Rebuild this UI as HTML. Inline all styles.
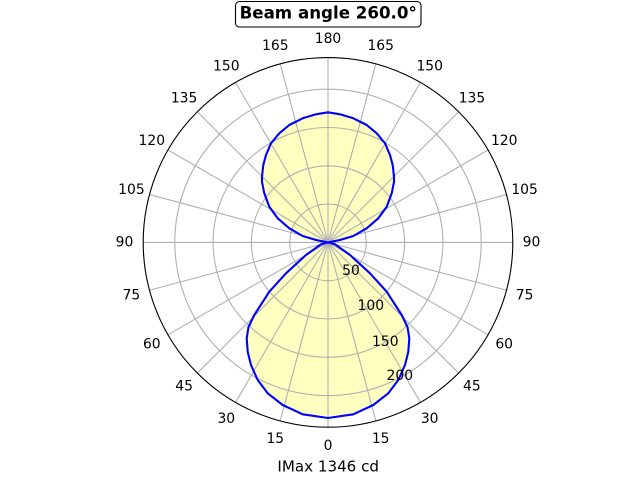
<!DOCTYPE html>
<html><head><meta charset="utf-8"><style>
html,body{margin:0;padding:0;background:#fff;}
svg{display:block;}
text{font-family:"DejaVu Sans","Liberation Sans",sans-serif;fill:#000;}
</style></head><body>
<svg width="640" height="480" viewBox="0 0 640 480" xmlns="http://www.w3.org/2000/svg">
<rect width="640" height="480" fill="#fff"/>
<path d="M328,242.4 L330,242 L340,240 L353.3,236 L366.7,228.3 L378.3,218.3 L386.7,206.7 L391.7,193.3 L394,182 L394,176.7 L392.7,165 L390,155 L385,143.3 L376.7,133.3 L366.7,125 L353.3,118.3 L340,114.3 L328,112.3 L316,114.3 L302.7,118.3 L289.3,125 L279.3,133.3 L271,143.3 L266,155 L263.3,165 L262,176.7 L262,182 L264.3,193.3 L269.3,206.7 L277.7,218.3 L289.3,228.3 L302.7,236 L316,240 L326,242 L328,242.4 L321,244.3 L306,255 L286,273.3 L269.3,291.7 L254.3,315 L248.5,327 L246.7,338.3 L247.7,351.7 L251,365 L257.7,380 L267.7,393.3 L282.7,405 L302.7,414.3 L328,418 L353.3,414.3 L373.3,405 L388.3,393.3 L398.3,380 L405,365 L408.3,351.7 L409.3,338.3 L407.5,327 L401.7,315 L386.7,291.7 L370,273.3 L350,255 L335,244.3 Z" fill="#ffffc0" stroke="none"/>
<g stroke="#b0b0b0" stroke-width="1.1" fill="none">
<circle cx="328" cy="242.4" r="38.3"/>
<circle cx="328" cy="242.4" r="76.6"/>
<circle cx="328" cy="242.4" r="114.9"/>
<circle cx="328" cy="242.4" r="153.2"/>
<line x1="328" y1="242.4" x2="328" y2="427.2"/>
<line x1="328" y1="242.4" x2="328" y2="57.6"/>
<line x1="328" y1="242.4" x2="143.2" y2="242.4"/>
<line x1="328" y1="242.4" x2="512.8" y2="242.4"/>
<line x1="328" y1="242.4" x2="375.83" y2="420.9"/>
<line x1="328" y1="242.4" x2="280.17" y2="420.9"/>
<line x1="328" y1="242.4" x2="375.83" y2="63.9"/>
<line x1="328" y1="242.4" x2="280.17" y2="63.9"/>
<line x1="328" y1="242.4" x2="420.4" y2="402.44"/>
<line x1="328" y1="242.4" x2="235.6" y2="402.44"/>
<line x1="328" y1="242.4" x2="420.4" y2="82.36"/>
<line x1="328" y1="242.4" x2="235.6" y2="82.36"/>
<line x1="328" y1="242.4" x2="458.67" y2="373.07"/>
<line x1="328" y1="242.4" x2="197.33" y2="373.07"/>
<line x1="328" y1="242.4" x2="458.67" y2="111.73"/>
<line x1="328" y1="242.4" x2="197.33" y2="111.73"/>
<line x1="328" y1="242.4" x2="488.04" y2="334.8"/>
<line x1="328" y1="242.4" x2="167.96" y2="334.8"/>
<line x1="328" y1="242.4" x2="488.04" y2="150"/>
<line x1="328" y1="242.4" x2="167.96" y2="150"/>
<line x1="328" y1="242.4" x2="506.5" y2="290.23"/>
<line x1="328" y1="242.4" x2="149.5" y2="290.23"/>
<line x1="328" y1="242.4" x2="506.5" y2="194.57"/>
<line x1="328" y1="242.4" x2="149.5" y2="194.57"/>
</g>
<circle cx="328" cy="242.4" r="184.8" fill="none" stroke="#000" stroke-width="1.1"/>
<path d="M328,242.4 L330,242 L340,240 L353.3,236 L366.7,228.3 L378.3,218.3 L386.7,206.7 L391.7,193.3 L394,182 L394,176.7 L392.7,165 L390,155 L385,143.3 L376.7,133.3 L366.7,125 L353.3,118.3 L340,114.3 L328,112.3 L316,114.3 L302.7,118.3 L289.3,125 L279.3,133.3 L271,143.3 L266,155 L263.3,165 L262,176.7 L262,182 L264.3,193.3 L269.3,206.7 L277.7,218.3 L289.3,228.3 L302.7,236 L316,240 L326,242 L328,242.4 L321,244.3 L306,255 L286,273.3 L269.3,291.7 L254.3,315 L248.5,327 L246.7,338.3 L247.7,351.7 L251,365 L257.7,380 L267.7,393.3 L282.7,405 L302.7,414.3 L328,418 L353.3,414.3 L373.3,405 L388.3,393.3 L398.3,380 L405,365 L408.3,351.7 L409.3,338.3 L407.5,327 L401.7,315 L386.7,291.7 L370,273.3 L350,255 L335,244.3 Z" fill="none" stroke="#0000ff" stroke-width="2.1" stroke-linejoin="round"/>
<g font-size="13.9" text-anchor="middle">
<text x="328" y="450.1">0</text>
<text x="275.3" y="443.2">15</text>
<text x="380.7" y="443.2">15</text>
<text x="226.3" y="422.8">30</text>
<text x="429.7" y="422.8">30</text>
<text x="184.1" y="390.5">45</text>
<text x="471.9" y="390.5">45</text>
<text x="151.8" y="348.3">60</text>
<text x="504.2" y="348.3">60</text>
<text x="131.4" y="299.3">75</text>
<text x="524.6" y="299.3">75</text>
<text x="124.5" y="246.6">90</text>
<text x="531.5" y="246.6">90</text>
<text x="131.4" y="194">105</text>
<text x="524.6" y="194">105</text>
<text x="151.8" y="144.9">120</text>
<text x="504.2" y="144.9">120</text>
<text x="184.1" y="102.7">135</text>
<text x="471.9" y="102.7">135</text>
<text x="226.3" y="70.4">150</text>
<text x="429.7" y="70.4">150</text>
<text x="275.3" y="50">165</text>
<text x="380.7" y="50">165</text>
<text x="328" y="43.1">180</text>
</g>
<g font-size="13.9" text-anchor="middle">
<text x="351" y="274.8">50</text>
<text x="370.8" y="309.8">100</text>
<text x="385.3" y="345.8">150</text>
<text x="399.8" y="379.8">200</text>
</g>
<rect x="235.5" y="1.5" width="185.5" height="25.5" rx="4" ry="4" fill="#fff" stroke="#000" stroke-width="1.1"/>
<text x="328.2" y="18.4" font-size="16.67" font-weight="bold" text-anchor="middle">Beam angle 260.0°</text>
<text x="328.2" y="471.7" font-size="15.1" text-anchor="middle">IMax 1346 cd</text>
</svg>
</body></html>
